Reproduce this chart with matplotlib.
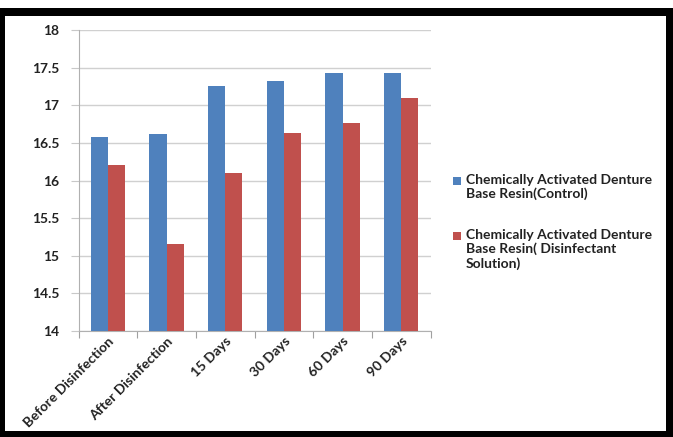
import matplotlib.pyplot as plt
import matplotlib.patches as patches
import numpy as np

plt.rcParams['font.family'] = ['Lato', 'DejaVu Sans']

categories = ['Before Disinfection', 'After Disinfection', '15 Days', '30 Days', '60 Days', '90 Days']
control = [16.58, 16.62, 17.26, 17.32, 17.43, 17.43]
disinfectant = [16.20, 15.15, 16.10, 16.63, 16.76, 17.10]
labels = ['Chemically Activated Denture\nBase Resin(Control)',
          'Chemically Activated Denture\nBase Resin( Disinfectant\nSolution)']
colors = ['#4F81BD', '#C0504D']

W, H = 673, 437
fig = plt.figure(figsize=(W / 100, H / 100), dpi=100)
fig.patch.set_facecolor('white')

# black frame: outer black box with a white panel inside
fig.add_artist(patches.Rectangle((0, 0), 1, (H - 8) / H, transform=fig.transFigure,
                                 facecolor='black', edgecolor='none', zorder=-2))
fig.add_artist(patches.Rectangle((5 / W, 6 / H), 661 / W, 415 / H, transform=fig.transFigure,
                                 facecolor='white', edgecolor='none', zorder=-1))

ax = fig.add_axes([78.5 / W, 1 - 331 / H, 352 / W, 301 / H])
ax.patch.set_alpha(0)
x = np.arange(len(categories))
w = 0.29
ax.bar(x - w / 2, control, w, color=colors[0], zorder=3)
ax.bar(x + w / 2, disinfectant, w, color=colors[1], zorder=3)

ax.set_ylim(14, 18)
ax.set_xlim(-0.5, len(categories) - 0.5)
ax.set_yticks(np.arange(14, 18.01, 0.5))
ax.set_yticklabels(['14', '14.5', '15', '15.5', '16', '16.5', '17', '17.5', '18'])
ax.yaxis.grid(True, color='#D0D0D0', linewidth=1)
ax.set_axisbelow(True)

ax.set_xticks(np.arange(-0.5, len(categories), 1))
ax.set_xticklabels([])
ax.set_xticks(x, minor=True)
ax.set_xticklabels(categories, minor=True, rotation=45, ha='right',
                   rotation_mode='anchor', fontsize=10, fontweight='bold', color='#222222')
ax.tick_params(axis='x', which='minor', length=0, pad=3)
ax.tick_params(axis='x', which='major', length=5, color='#A0A0A0')
ax.tick_params(axis='y', length=6, color='#C8C8C8', labelsize=10, pad=8, labelcolor='#222222')
for t in ax.get_yticklabels():
    t.set_fontweight('bold')

for s in ['top', 'right']:
    ax.spines[s].set_visible(False)
for s in ['left', 'bottom']:
    ax.spines[s].set_color('#B0B0B0')

# legend: square key beside the first line of each entry
for lab, col, ytop in zip(labels, colors, [174, 229]):
    fig.add_artist(patches.Rectangle((453 / W, 1 - (ytop + 11) / H), 8 / W, 8 / H,
                                     transform=fig.transFigure, facecolor=col, edgecolor='none'))
    fig.text(466 / W, 1 - ytop / H, lab, ha='left', va='top', fontsize=10,
             fontweight='bold', color='#222222', linespacing=1.15)

fig.savefig('out.png', dpi=100)
